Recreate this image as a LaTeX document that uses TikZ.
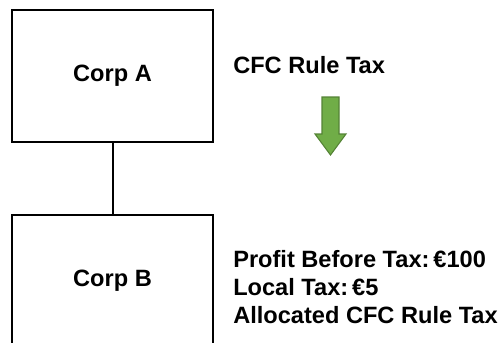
\documentclass[tikz,border=0pt]{standalone}
\usepackage{tikz}
\usepackage{fontspec}
\setmainfont{Liberation Sans}
\usetikzlibrary{calc}
\definecolor{cfc_green}{RGB}{112, 173, 71}
\definecolor{cfc_dkgreen}{RGB}{84, 130, 53}
\tikzstyle{corp}=[rectangle,draw=black,line width=1.3pt,inner sep=0pt,
  minimum width=150.75pt,minimum height=99pt,font=\fontsize{17.7}{20.8}\selectfont\bfseries]
\tikzstyle{txt}=[inner sep=0pt,align=left,font=\fontsize{17.7}{20.8}\selectfont\bfseries]
\tikzstyle{tax}=[fill=cfc_green,draw=cfc_dkgreen,line width=0.8pt,line join=miter]
\tikzstyle{none}=[]

\begin{document}
\begin{tikzpicture}[x=0.75pt,y=-0.75pt]
            \useasboundingbox (0, 0) rectangle (504, 343);
            \clip (0, 0) rectangle (504, 343);
            \node [style=corp] (0) at (112.5, 76) {Corp A};
            \node [style=corp] (1) at (112.5, 281) {Corp B};
            \node [style=txt, anchor=base west] (2) at (233, 73) {CFC Rule Tax};
            \node [style=txt, anchor=base west] (3) at (233, 323)
                {Profit Before Tax:\,€100\\Local Tax:\,€5\\Allocated CFC Rule Tax};
            \draw [line width=1.5pt] (0) to (1);
            \draw [style=tax] (322, 97) -- (339, 97) -- (339, 134) -- (346, 134)
                -- (330.5, 155) -- (315, 134) -- (322, 134) -- cycle;
    \end{tikzpicture}
\end{document}
